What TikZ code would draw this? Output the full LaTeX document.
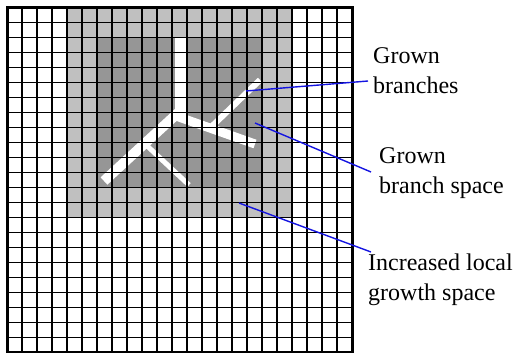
\documentclass[tikz,border=0pt]{standalone}
\usepackage{fontspec}
\setmainfont{Liberation Serif}
\usepackage{tikz}
\usetikzlibrary{positioning}
\definecolor{SpaceLight}{RGB}{192,192,192}
\definecolor{SpaceDark}{RGB}{150,150,150}
\definecolor{LinkBlue}{RGB}{20,20,225}

\begin{document}
\begin{tikzpicture}[x=1pt, y=-1pt,
    gridline/.style={black, line width=1.4pt},
    frame/.style={black, line width=3pt},
    branch/.style={white, line cap=butt},
    pointer/.style={LinkBlue, line width=1.4pt},
    lbl/.style={anchor=north west, inner sep=0pt, align=left,
                font=\fontsize{24}{30}\selectfont}
]
    \useasboundingbox (0,0) rectangle (523,353);
    \fill[SpaceLight] (67,7.5) rectangle (292,217.5);
    \fill[SpaceDark] (97,37.5) rectangle (262,187.5);

    \fill[white] (175,37.5) rectangle (188,116);
    \draw[branch, line width=10pt] (179,112) -- (104,181);
    \draw[branch, line width=9pt] (176,116) -- (255,144);
    \draw[branch, line width=6pt] (208,130) -- (260,80);
    \draw[branch, line width=5pt] (144,143) -- (189,185);

    \foreach \i in {1,...,22} {
        \draw[gridline] (7+15*\i,7.5) -- (7+15*\i,352.5);
        \draw[gridline] (7,7.5+15*\i) -- (352,7.5+15*\i);
    }
    \draw[frame] (7,7.5) rectangle (352,352.5);

    \node[lbl] (lblbr) at (373,47) {Grown\\branches};
    \node[lbl] (lblsp) at (379,147) {Grown\\branch space};
    \node[lbl] (lblgr) at (368,254) {Increased local\\growth space};

    \coordinate (tipbr) at (246,91);
    \coordinate (tipsp) at (255,123);
    \coordinate (tipgr) at (239,203);

    \draw[pointer] (tipbr) -- ([shift={(-5,34)}]lblbr.north west);
    \draw[pointer] (tipsp) -- ([shift={(-8,25)}]lblsp.north west);
    \draw[pointer] (tipgr) -- ([shift={(3,-2)}]lblgr.north west);
\end{tikzpicture}
\end{document}
